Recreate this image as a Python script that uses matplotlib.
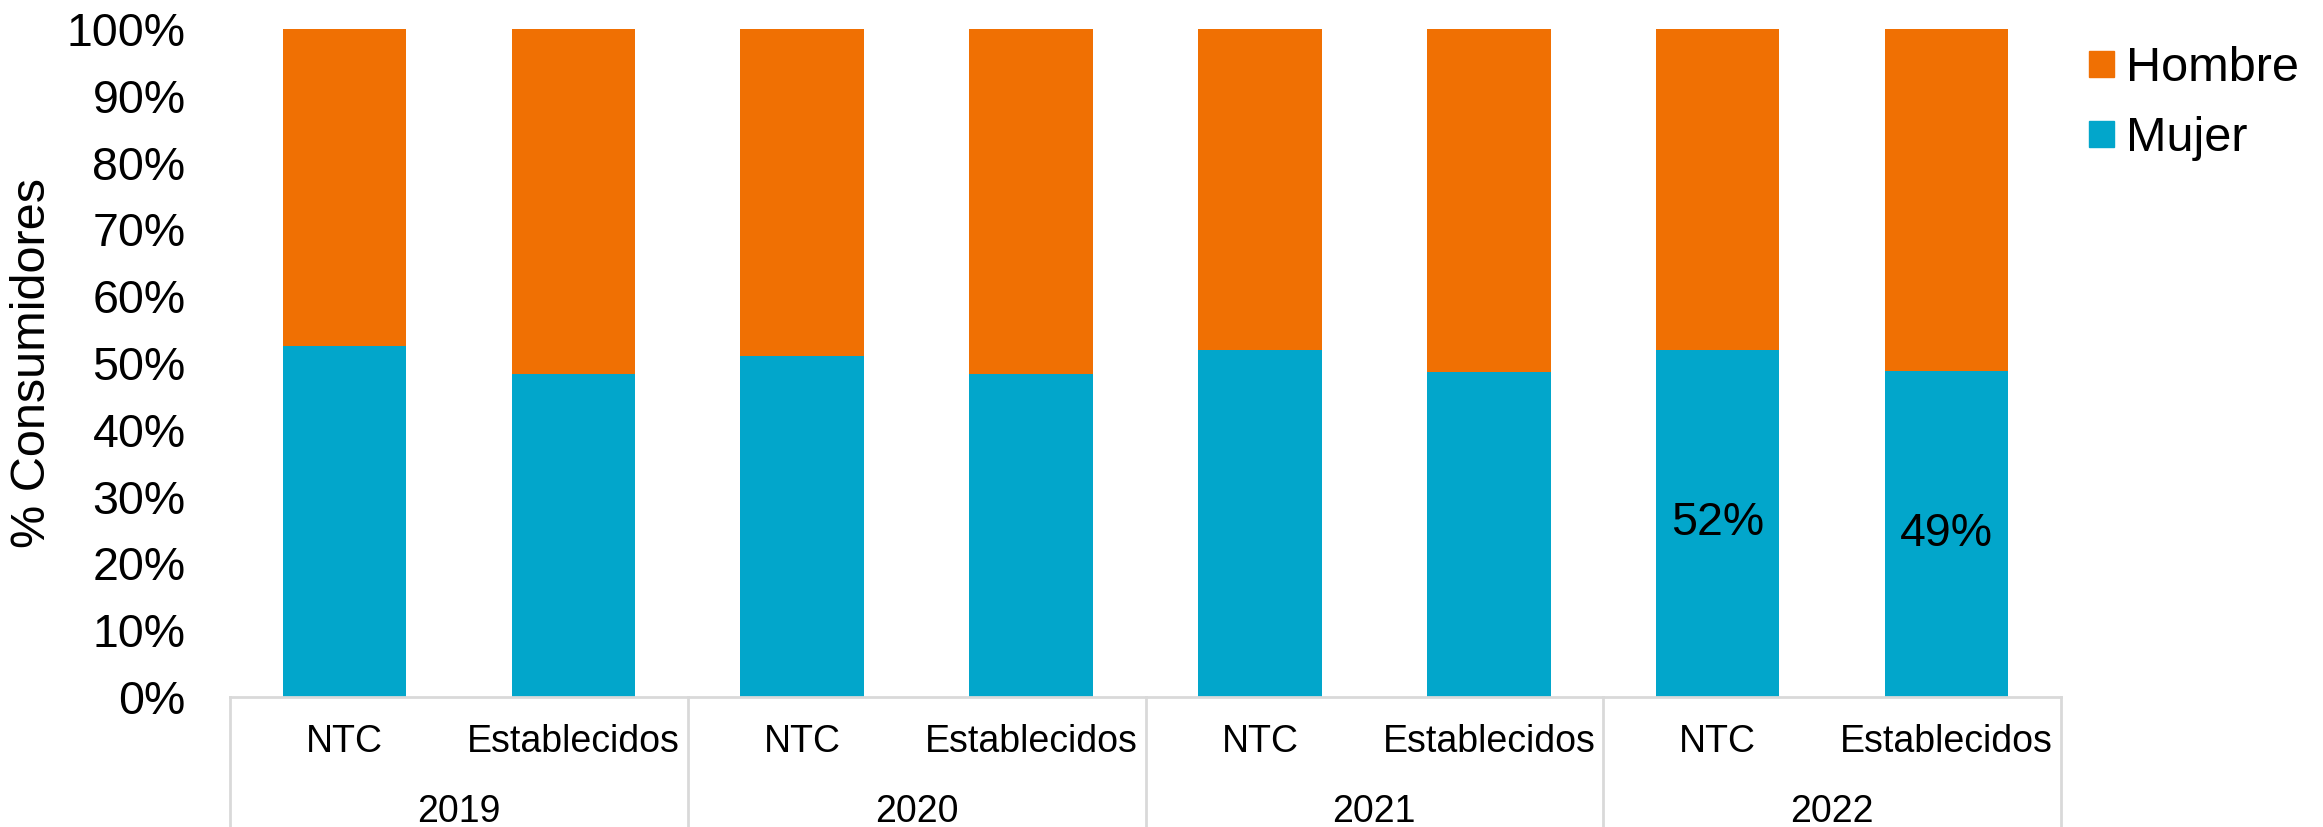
import matplotlib.pyplot as plt
from matplotlib.lines import Line2D
from matplotlib.patches import Patch

plt.rcParams['font.family'] = ['Liberation Sans', 'DejaVu Sans']

years = ['2019', '2020', '2021', '2022']
segments = ['NTC', 'Establecidos']
mujer = [0.526, 0.484, 0.510, 0.483, 0.519, 0.487, 0.52, 0.488]
hombre = [1 - m for m in mujer]
labels_shown = {6: '52%', 7: '49%'}

blue = '#02A6CB'
orange = '#F07003'
grid = '#D9D9D9'

fig = plt.figure(figsize=(23.23, 8.27), dpi=100)
ax = fig.add_axes([230 / 2323, 1 - 697 / 827, 1831 / 2323, 668 / 827])

x = list(range(len(mujer)))
ax.bar(x, mujer, width=0.54, color=blue, label='Mujer')
ax.bar(x, hombre, width=0.54, bottom=mujer, color=orange, label='Hombre')

for i, txt in labels_shown.items():
    ax.text(i, mujer[i] / 2, txt, ha='center', va='center', fontsize=33.5, color='black')

ax.set_xlim(-0.5, len(mujer) - 0.5)
ax.set_ylim(0, 1)
ax.set_yticks([i / 10 for i in range(11)])
ax.set_yticklabels(['%d%%' % (i * 10) for i in range(11)], fontsize=33.5)
ax.tick_params(axis='y', length=0, pad=32)
ax.set_xticks([])
for s in ['left', 'right', 'top']:
    ax.spines[s].set_visible(False)
ax.spines['bottom'].set_color(grid)
ax.spines['bottom'].set_linewidth(2)

# two-level category axis
tr = ax.get_xaxis_transform()
for i in x:
    ax.text(i, -0.068, segments[i % 2], transform=tr, ha='center', va='center', fontsize=27)
for g, yr in enumerate(years):
    ax.text(2 * g + 0.5, -0.172, yr, transform=tr, ha='center', va='center', fontsize=27)
for b in range(len(years) + 1):
    ax.add_line(Line2D([2 * b - 0.5, 2 * b - 0.5], [0, -0.2], transform=tr,
                       color=grid, linewidth=2, clip_on=False))

fig.text(33 / 2323, 1 - 363 / 827, '% Consumidores', rotation=90, ha='center', va='center', fontsize=35)

handles = [Patch(color=orange, label='Hombre'), Patch(color=blue, label='Mujer')]
fig.legend(handles=handles, loc='upper left', bbox_to_anchor=(2089 / 2323, 1 - 46 / 827),
           frameon=False, fontsize=35, handlelength=0.52, handleheight=0.45,
           handletextpad=0.25, labelspacing=0.52, borderpad=0, borderaxespad=0)

fig.savefig('out.png', dpi=100)
